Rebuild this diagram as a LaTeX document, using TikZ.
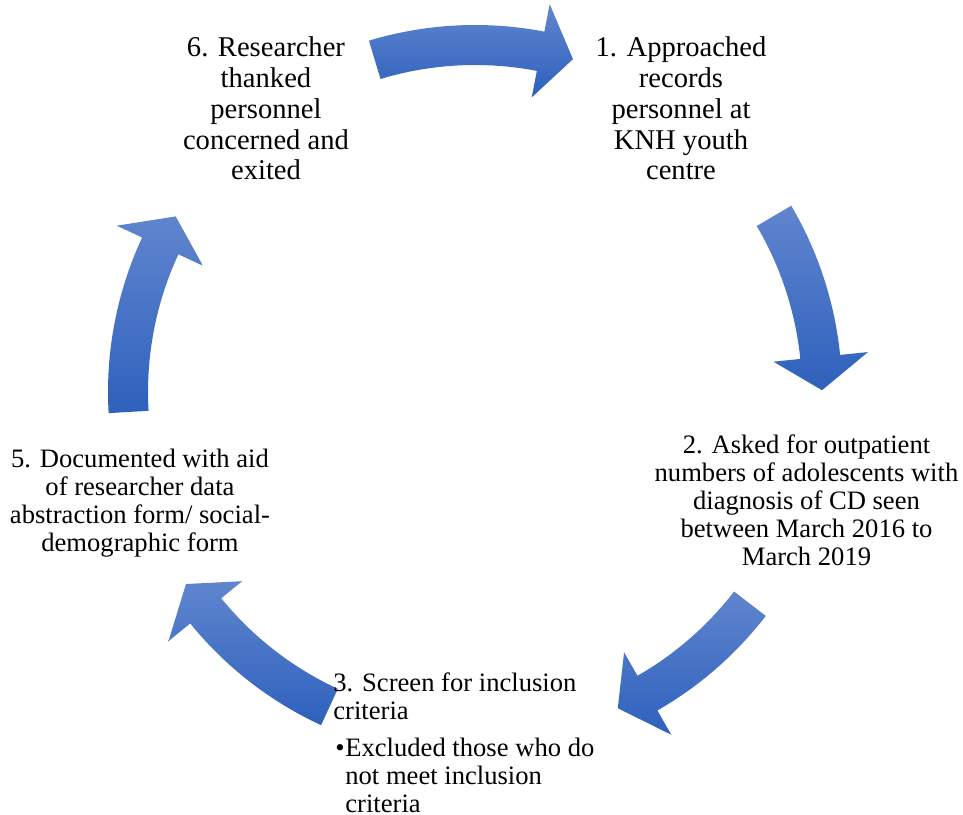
\documentclass[tikz,border=0pt]{standalone}
\usepackage{fontspec}
\setmainfont{Liberation Serif}
\usepackage{tikz}

\definecolor{arrowtop}{RGB}{96,133,206}
\definecolor{arrowbottom}{RGB}{46,97,189}

\tikzset{
  arrowshade/.style={top color=arrowtop, bottom color=arrowbottom, draw=none},
  steptext/.style={align=center, inner sep=0pt, font=\fontsize{13.3}{14}\selectfont},
  toptext/.style={align=center, inner sep=0pt, font=\fontsize{14.3}{15.4}\selectfont}
}

% #1 = tail angle, #2 = tip angle (clockwise)
\newcommand{\cyclearrow}[2]{%
  \pgfmathsetmacro{\headbase}{#2+5.5}
  \shade[arrowshade] (#1:367) arc[start angle=#1, end angle=\headbase, radius=367]
    -- (\headbase:395) -- (#2:347) -- (\headbase:300) -- (\headbase:327)
    arc[start angle=\headbase, end angle=#1, radius=327] -- cycle;}

\begin{document}
\begin{tikzpicture}[x=0.5pt, y=0.5pt]
\useasboundingbox (-475,-422) rectangle (488,392);
% arrows round the cycle
\cyclearrow{106.8}{73.6}
\cyclearrow{30.5}{0.3}
\cyclearrow{-37.6}{-65.7}
\cyclearrow{-114.8}{-146.4}
\cyclearrow{183.3}{149.6}
% steps
\node[toptext] (StepOne) at (206,283.5) {1. Approached\\records\\personnel at\\KNH youth\\centre};
\node[steptext] (StepTwo) at (331.5,-108) {2. Asked for outpatient\\numbers of adolescents with\\diagnosis of CD seen\\between March 2016 to\\March 2019};
\node[steptext, align=left, anchor=west] (StepThree) at (-142,-351) {3. Screen for inclusion\\criteria\\[4.5pt]\hspace*{1pt}\makebox[5pt][l]{\textbullet}Excluded those who do\\\hspace*{6pt}not meet inclusion\\\hspace*{6pt}criteria};
\node[steptext] (StepFive) at (-335,-111) {5. Documented with aid\\of researcher data\\abstraction form/ social-\\demographic form};
\node[toptext] (StepSix) at (-209,283.5) {6. Researcher\\thanked\\personnel\\concerned and\\exited};
\end{tikzpicture}
\end{document}
